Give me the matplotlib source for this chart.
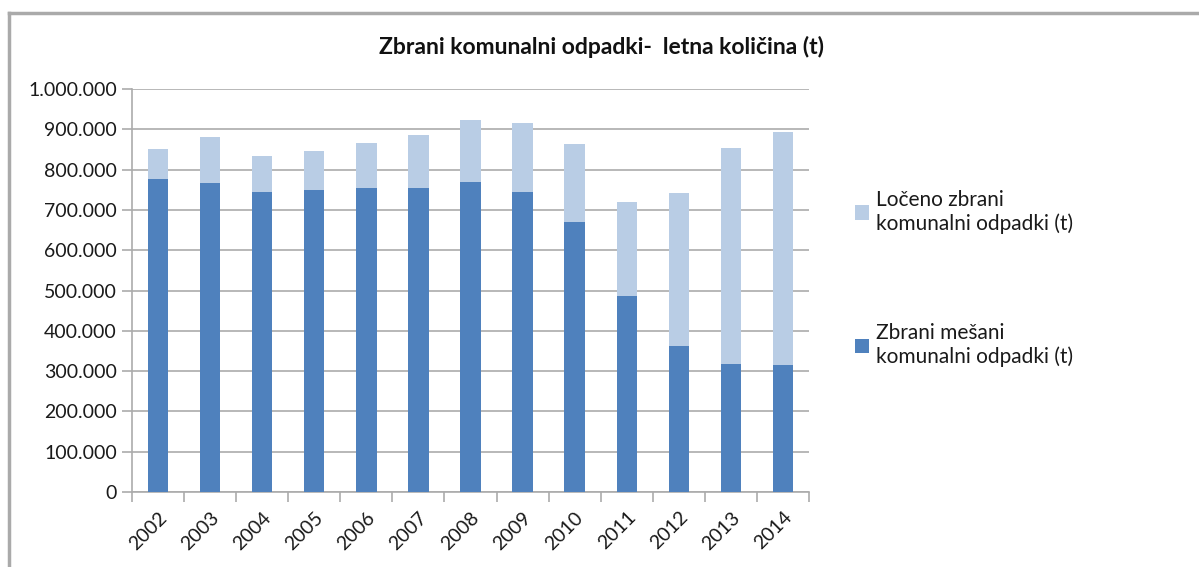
import matplotlib
matplotlib.use('Agg')
import matplotlib.pyplot as plt
import numpy as np
from matplotlib.lines import Line2D
from matplotlib.ticker import FuncFormatter, FixedLocator

plt.rcParams['font.family'] = ['Lato', 'DejaVu Sans']

# podatki odčitani s slike
leta = ['2002', '2003', '2004', '2005', '2006', '2007', '2008',
        '2009', '2010', '2011', '2012', '2013', '2014']
mesani = [776700, 766000, 744400, 750100, 753600, 755100, 768500,
          745200, 669200, 487100, 361500, 318400, 315100]
skupaj = [850400, 880100, 833700, 845400, 866700, 885100, 922300,
          914900, 864300, 720300, 741200, 852900, 892600]
loceno = [s - m for s, m in zip(skupaj, mesani)]

temna = '#4F81BD'
svetla = '#B9CDE5'
siva = '#ABABAB'

fig = plt.figure(figsize=(11.99, 5.67), dpi=100)
ax = fig.add_axes([132 / 1199, 1 - 492 / 567, (809 - 132) / 1199, (492 - 89) / 567])

x = np.arange(len(leta))
b1 = ax.bar(x, mesani, width=0.39, color=temna, zorder=3)
b2 = ax.bar(x, loceno, width=0.39, bottom=mesani, color=svetla, zorder=3)

ax.set_xlim(-0.5, len(leta) - 0.5)
ax.set_ylim(0, 1000000)
ax.set_yticks(np.arange(0, 1000001, 100000))
ax.yaxis.set_major_formatter(FuncFormatter(lambda v, p: f'{int(v):,}'.replace(',', '.')))
ax.yaxis.grid(True, color=siva, linewidth=1.2, zorder=0)

# kljukice med kategorijami, oznake pod stolpci
ax.xaxis.set_major_locator(FixedLocator(np.arange(-0.5, len(leta), 1)))
ax.xaxis.set_minor_locator(FixedLocator(x))
ax.set_xticklabels([''] * (len(leta) + 1))
ax.set_xticklabels(leta, minor=True, rotation=45, ha='right', va='top',
                   rotation_mode='anchor', fontsize=14, color='#1a1a1a')
ax.tick_params(axis='x', which='major', length=7, color=siva, width=1.2)
ax.tick_params(axis='x', which='minor', length=0, pad=12)
ax.tick_params(axis='y', length=7, color=siva, width=1.2, labelsize=14,
               labelcolor='#1a1a1a', pad=4)

for s in ['top', 'right']:
    ax.spines[s].set_visible(False)
for s in ['left', 'bottom']:
    ax.spines[s].set_color(siva)
    ax.spines[s].set_linewidth(1.2)

fig.text(0.502, 1 - 47 / 567, 'Zbrani komunalni odpadki-  letna količina (t)',
         ha='center', va='center', fontsize=16.5, fontweight='bold', color='#111111')

fig.legend([b2, b1],
           ['Ločeno zbrani\nkomunalni odpadki (t)', 'Zbrani mešani\nkomunalni odpadki (t)'],
           loc='upper left', bbox_to_anchor=(836 / 1199, 1 - 171 / 567),
           frameon=False, fontsize=15, handlelength=0.7, handleheight=0.7,
           handletextpad=0.3, labelspacing=4.3, labelcolor='#1a1a1a')

# okvir grafikona
fig.add_artist(Line2D([9 / 1199, 9 / 1199], [0, 1 - 13 / 567], color='#AAAAAA', linewidth=2.5))
fig.add_artist(Line2D([9 / 1199, 1], [1 - 13 / 567, 1 - 13 / 567], color='#AAAAAA', linewidth=2.5))

fig.savefig('out.png', dpi=100)
